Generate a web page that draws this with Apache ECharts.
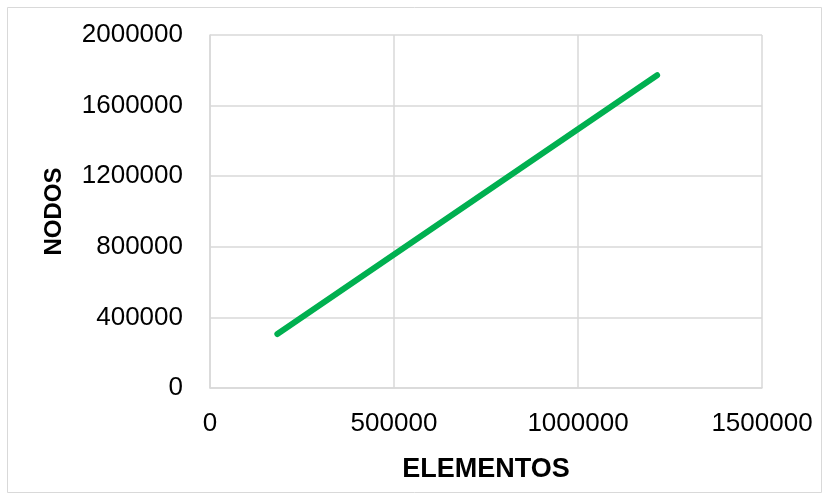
<!DOCTYPE html>
<html>
<head>
<meta charset="utf-8">
<script src="https://cdn.jsdelivr.net/npm/echarts@6/dist/echarts.min.js"></script>
<style>
  html, body { margin: 0; padding: 0; background: #fff; }
  #chart { width: 829px; height: 500px; }
</style>
</head>
<body>
<div id="chart"></div>
<script>
// datos
const elementos = [183000, 1215000]
const nodos = [306000, 1772000]
const xTicks = [0, 500000, 1000000, 1500000]
const yTicks = [0, 400000, 800000, 1200000, 1600000, 2000000]

const myChart = echarts.init(document.getElementById('chart'))
const gris = '#d9d9d9'
const option = {
  backgroundColor: '#fff',
  animation: false,
  textStyle: { fontFamily: 'Liberation Sans, Arial, sans-serif' },
  graphic: [
    {
      type: 'rect',
      shape: { x: 7.5, y: 7.5, width: 814, height: 485 },
      style: { fill: 'none', stroke: gris, lineWidth: 1 }
    }
  ],
  grid: { left: 210, top: 35, right: 67, bottom: 112 },
  xAxis: {
    type: 'value',
    min: xTicks[0],
    max: xTicks[xTicks.length - 1],
    interval: 500000,
    name: 'ELEMENTOS',
    nameLocation: 'middle',
    nameGap: 68,
    nameTextStyle: { fontSize: 27, fontWeight: 'bold', color: '#000' },
    axisLine: { show: true, lineStyle: { color: gris, width: 1.5 } },
    axisTick: { show: false },
    axisLabel: { fontSize: 26, color: '#000', margin: 23, formatter: v => String(v) },
    splitLine: { show: true, lineStyle: { color: gris, width: 1.5 } }
  },
  yAxis: {
    type: 'value',
    min: yTicks[0],
    max: yTicks[yTicks.length - 1],
    interval: 400000,
    name: 'NODOS',
    nameLocation: 'middle',
    nameGap: 144,
    nameTextStyle: { fontSize: 24, fontWeight: 'bold', color: '#000' },
    axisLine: { show: true, lineStyle: { color: gris, width: 1.5 } },
    axisTick: { show: false },
    axisLabel: { fontSize: 26, color: '#000', margin: 27, formatter: v => String(v) },
    splitLine: { show: true, lineStyle: { color: gris, width: 1.5 } }
  },
  series: [
    {
      type: 'line',
      data: elementos.map((x, i) => [x, nodos[i]]),
      showSymbol: false,
      lineStyle: { color: '#00b050', width: 6, cap: 'round' }
    }
  ]
}
myChart.setOption(option)
window.addEventListener('resize', function () {
  myChart.resize()
})
</script>
</body>
</html>
